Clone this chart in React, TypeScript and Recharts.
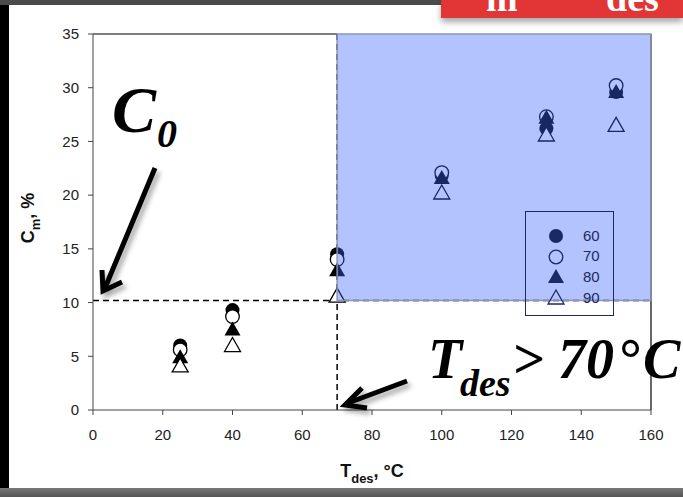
import React from 'react';
import {
  ScatterChart, Scatter, XAxis, YAxis, ReferenceLine, ReferenceArea, Label
} from 'recharts';

/* ─── DATA ─────────────────────────────────────── */
const tDes = [25, 40, 70, 100, 130, 150];
const cm60 = [6.0, 9.3, 14.5, 21.8, 26.2, 29.6];
const cm70 = [5.6, 8.7, 14.0, 22.1, 27.3, 30.2];
const cm80 = [4.9, 7.5, 13.0, 21.6, 27.2, 29.6];
const cm90 = [4.1, 6.0, 10.6, 20.2, 25.6, 26.5];
const xTicks = [0, 20, 40, 60, 80, 100, 120, 140, 160];
const yTicks = [0, 5, 10, 15, 20, 25, 30, 35];
const c0 = 10.2;
const tThreshold = 70;

const toPoints = (ys: number[]) => ys.map((y, i) => ({ x: tDes[i], y }));

const FONT = '"Liberation Sans", Arial, sans-serif';
const SERIF = '"Liberation Serif", "Times New Roman", serif';
const NAVY = '#1b2a62';

/* ─── MARKERS ─────────────────────────────────────── */
const Marker = ({ kind, cx, cy, color = '#000', hollow = '#fff' }: any) => {
  if (kind === 'dot') return <circle cx={cx} cy={cy} r={7} fill={color} />;
  if (kind === 'ring') return <circle cx={cx} cy={cy} r={6.8} fill={hollow} stroke={color} strokeWidth={1.3} />;
  const pts = `${cx},${cy - 8} ${cx + 8},${cy + 6} ${cx - 8},${cy + 6}`;
  if (kind === 'tri') return <polygon points={pts} fill={color} />;
  return <polygon points={pts} fill={hollow} stroke={color} strokeWidth={1.3} />;
};

const SERIES = [
  { name: '60', kind: 'dot', data: toPoints(cm60) },
  { name: '70', kind: 'ring', data: toPoints(cm70) },
  { name: '80', kind: 'tri', data: toPoints(cm80) },
  { name: '90', kind: 'hollowTri', data: toPoints(cm90) },
];

/* ─── LEGEND ─────────────────────────────────────── */
const BoxLegend = () => (
  <div style={{
    position: 'absolute', left: 525, top: 211, width: 89, height: 105,
    border: `1.3px solid ${NAVY}`, boxSizing: 'border-box', paddingTop: 13,
  }}>
    {SERIES.map((s) => (
      <div key={s.name} style={{ display: 'flex', alignItems: 'center', height: 20.6 }}>
        <svg width={60} height={20} style={{ flexShrink: 0 }}>
          <Marker kind={s.kind} cx={30} cy={11} color={NAVY} hollow="transparent" />
        </svg>
        <span style={{ fontFamily: FONT, fontSize: 15, color: NAVY, marginLeft: -3 }}>{s.name}</span>
      </div>
    ))}
  </div>
);

/* ─── AXIS LABELS ─────────────────────────────────────── */
const XTitle = () => (
  <text x={372} y={477} textAnchor="middle" fontFamily={FONT} fontWeight={700} fontSize={18} fill="#111">
    T<tspan dy={6} fontSize={13}>des</tspan><tspan dy={-6}>, °C</tspan>
  </text>
);

const YTitle = () => (
  <text x={0} y={0} transform="translate(34 218) rotate(-90)" textAnchor="middle" fontFamily={FONT} fontWeight={700} fontSize={18} fill="#111">
    C<tspan dy={6} fontSize={13}>m</tspan><tspan dy={-6}>, %</tspan>
  </text>
);

/* ─── ANNOTATIONS ─────────────────────────────────────── */
const Annotations = () => (
  <svg width={683} height={497} style={{ position: 'absolute', left: 0, top: 0, pointerEvents: 'none' }}>
    <defs>
      <filter id="sh" x="-50%" y="-50%" width="200%" height="200%">
        <feDropShadow dx={3} dy={4} stdDeviation={2.5} floodColor="#000" floodOpacity={0.35} />
      </filter>
    </defs>
    <g fontFamily={SERIF} fontWeight={700} fontStyle="italic" fill="#000">
      <text x={112} y={132} fontSize={66}>C</text>
      <text x={157} y={147} fontSize={40}>0</text>
      <text x={428} y={378} fontSize={56}>T</text>
      <text x={460} y={396} fontSize={38}>des</text>
      <text x={512} y={378} fontSize={56}>{'> 70'}</text>
      <text x={617} y={378} fontSize={56}>°</text>
      <text x={643} y={378} fontSize={56}>C</text>
    </g>
    <g stroke="#000" strokeWidth={5} fill="none" filter="url(#sh)">
      <line x1={155} y1={168} x2={105} y2={288} />
      <polyline points="102,270 103,291 122,282" />
      <line x1={407} y1={381} x2={348} y2={403} />
      <polyline points="362,388 345,405 367,408" />
    </g>
  </svg>
);

/* ─── PAGE FRAME ─────────────────────────────────────── */
const Frame = () => (
  <>
    <div style={{ position: 'absolute', left: 0, top: 0, width: 9, height: 497, background: '#000' }} />
    <div style={{ position: 'absolute', left: 0, top: 0, width: 683, height: 5, background: '#4b4b4b' }} />
    <div style={{ position: 'absolute', left: 0, top: 488, width: 683, height: 9, background: 'linear-gradient(#777, #555)' }} />
    <div style={{
      position: 'absolute', left: 441, top: 0, width: 242, height: 18, background: '#e23535',
      boxShadow: '0 4px 6px rgba(0,0,0,0.35)', overflow: 'hidden',
      fontFamily: SERIF, fontWeight: 700, fontSize: 38, color: '#fff',
    }}>
      <span style={{ position: 'absolute', left: 45, top: -24 }}>m</span>
      <span style={{ position: 'absolute', left: 165, top: -24 }}>des</span>
    </div>
  </>
);

export default function App() {
  return (
    <div style={{ position: 'absolute', left: 0, top: 0, width: 683, height: 497, background: '#fff', overflow: 'hidden' }}>
      <Frame />
      <ScatterChart width={683} height={497} margin={{ top: 34, right: 32, left: 33, bottom: 37 }}>
        <XAxis
          type="number" dataKey="x" domain={[0, 160]} ticks={xTicks} height={50}
          stroke="#444" tickSize={5} tickMargin={14} interval={0}
          tick={{ fontSize: 15, fill: '#222', fontFamily: FONT }}
        >
          <Label content={<XTitle />} />
        </XAxis>
        <YAxis
          type="number" dataKey="y" domain={[0, 35]} ticks={yTicks} width={60}
          stroke="#444" tickSize={5} tickMargin={9} interval={0}
          tick={{ fontSize: 15, fill: '#222', fontFamily: FONT }}
        >
          <Label content={<YTitle />} />
        </YAxis>
        <ReferenceLine segment={[{ x: 0, y: 35 }, { x: tThreshold, y: 35 }]} stroke="#000" strokeWidth={1.2} />
        <ReferenceLine segment={[{ x: 160, y: 0 }, { x: 160, y: 35 }]} stroke="#000" strokeWidth={1.2} />
        <ReferenceLine y={c0} stroke="#000" strokeWidth={1.5} strokeDasharray="6 4" />
        <ReferenceLine x={tThreshold} stroke="#000" strokeWidth={1.5} strokeDasharray="6 4" />
        {SERIES.map((s) => (
          <Scatter
            key={s.name} name={s.name} data={s.data} isAnimationActive={false}
            shape={(p: any) => <Marker kind={s.kind} cx={p.cx} cy={p.cy} />}
          />
        ))}
        <ReferenceArea
          x1={tThreshold} x2={160} y1={c0} y2={35}
          fill="rgb(60,100,250)" fillOpacity={0.39} stroke="#8a95b5" strokeWidth={1.5}
          zIndex={700}
        />
      </ScatterChart>
      <BoxLegend />
      <Annotations />
    </div>
  );
}
